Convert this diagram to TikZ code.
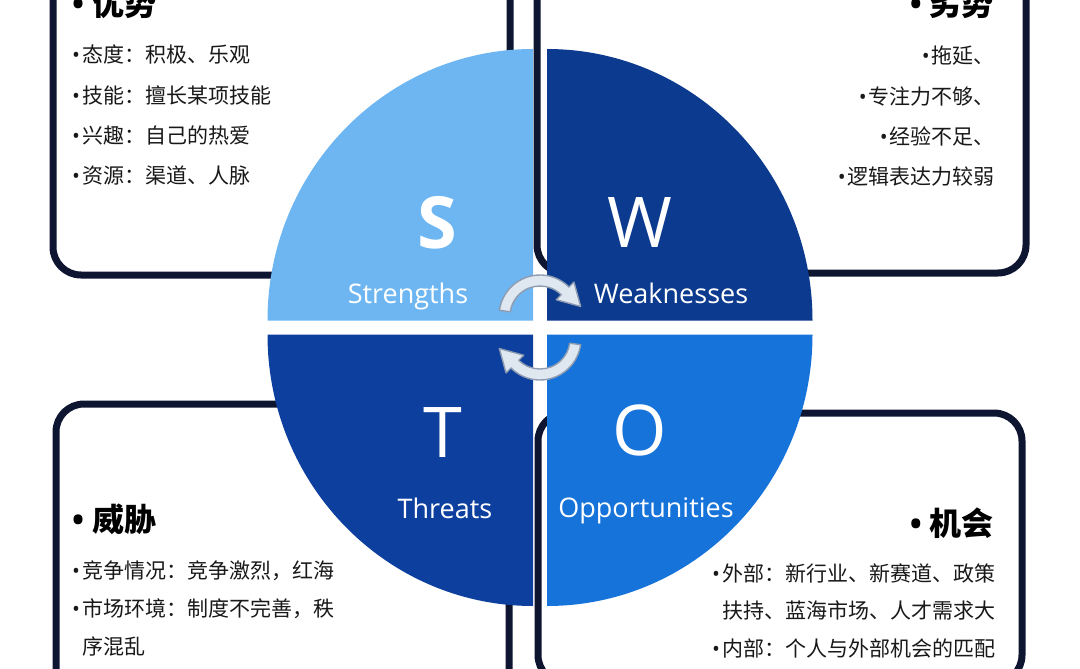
\documentclass[tikz,border=0pt]{standalone}
\usepackage{fontspec}
\setmainfont{Open Sans}
\newfontfamily\cjk{Noto Sans CJK SC}
\usetikzlibrary{calc}
\definecolor{navy}{HTML}{0D1530}
\definecolor{sblue}{HTML}{6DB6F2}
\definecolor{wblue}{HTML}{0B3A8E}
\definecolor{tblue}{HTML}{0D409E}
\definecolor{oblue}{HTML}{1673D9}
\definecolor{arrowfill}{HTML}{DFE7F0}
\definecolor{arrowline}{HTML}{8E9CB2}
\newcommand{\bul}{\makebox[10pt][l]{\rmfamily •}}
\newcommand{\hang}{\hspace*{10pt}}
\tikzset{
  card/.style={draw=navy, line width=7pt, rounded corners=28pt},
  swotletter/.style={text=white, font=\fontsize{70}{70}\selectfont, anchor=base, inner sep=0pt},
  swotlabel/.style={text=white, font=\fontsize{27}{27}\selectfont, anchor=base, inner sep=0pt},
  boxhead/.style={font=\cjk\bfseries\fontsize{32}{32}\selectfont, inner sep=0pt},
  boxitem/.style={font=\cjk\fontsize{21}{21}\selectfont, inner sep=0pt, text=black!90},
  cycle arrow/.style={fill=arrowfill, draw=arrowline, line width=1.4pt, line join=round},
}

\begin{document}
\begin{tikzpicture}[x=1pt, y=1pt]
  \useasboundingbox (0,0) rectangle (1080,-669);
  \clip (0,0) rectangle (1080,-669);
  \fill[white] (0,0) rectangle (1080,-669);

  % frames, partly hidden by the circle
  \draw[card] (53,40) rectangle (510,-275);
  \draw[card] (537,40) rectangle (1026,-273);
  \draw[card] (56,-404) rectangle (509,-720);
  \draw[card] (538,-413) rectangle (1022,-683);

  % the four quarters
  \coordinate (c) at (540,-327.5);
  \fill[sblue] ($(c)+(-7,7)$) -- ++(-265.5,0)
    arc[start angle=180, end angle=90, x radius=265.5, y radius=271.5] -- cycle;
  \fill[wblue] ($(c)+(7,7)$) -- ++(0,271.5)
    arc[start angle=90, end angle=0, x radius=265.5, y radius=271.5] -- cycle;
  \fill[tblue] ($(c)+(-7,-7)$) -- ++(-265.5,0)
    arc[start angle=180, end angle=270, x radius=265.5, y radius=271.5] -- cycle;
  \fill[oblue] ($(c)+(7,-7)$) -- ++(265.5,0)
    arc[start angle=0, end angle=-90, x radius=265.5, y radius=271.5] -- cycle;

  \node[swotletter, font=\bfseries\fontsize{72}{72}\selectfont] (s) at (437,-248) {S};
  \node[swotletter] (w) at (640,-247) {W};
  \node[swotletter] (t) at (443,-457) {T};
  \node[swotletter] (o) at (640,-455) {O};
  \node[swotlabel] (s-lbl) at (408,-303) {Strengths};
  \node[swotlabel] (w-lbl) at (671,-303) {Weaknesses};
  \node[swotlabel] (t-lbl) at (445,-518) {Threats};
  \node[swotlabel] (o-lbl) at (646,-517) {Opportunities};

  % turning arrows in the middle
  \coordinate (up) at (540,-316);
  \coordinate (dn) at (540,-339);
  \draw[cycle arrow] ($(up)+(172:41)$) arc[start angle=172, end angle=45, radius=41]
    -- ($(up)+(45:48)$) -- ($(up)+(45:35.5)+(-45:22)$) -- ($(up)+(45:23)$)
    -- ($(up)+(45:30)$) arc[start angle=45, end angle=172, radius=30] -- cycle;
  \draw[cycle arrow] ($(dn)+(-8:41)$) arc[start angle=-8, end angle=-135, radius=41]
    -- ($(dn)+(-135:48)$) -- ($(dn)+(-135:35.5)+(135:22)$) -- ($(dn)+(-135:23)$)
    -- ($(dn)+(-135:30)$) arc[start angle=-135, end angle=-8, radius=30] -- cycle;

  % texts in the frames
  \node[boxhead, anchor=base west] (str-head) at (72,-16) {{\rmfamily •}\hspace{8pt}优势};
  \node[boxhead, anchor=base east] (wk-head) at (994,-16) {{\rmfamily •}\hspace{8pt}劣势};
  \node[boxhead, anchor=base west] (th-head) at (72,-531) {{\rmfamily •}\hspace{8pt}威胁};
  \node[boxhead, anchor=base east] (op-head) at (994,-535) {{\rmfamily •}\hspace{8pt}机会};

  \foreach \txt [count=\i] in {态度：积极、乐观, 技能：擅长某项技能, 兴趣：自己的热爱, 资源：渠道、人脉}
    \node[boxitem, anchor=base west] (str-\i) at (72,{-63-40*(\i-1)}) {\bul\txt};
  \foreach \txt [count=\i] in {拖延、, 专注力不够、, 经验不足、, 逻辑表达力较弱}
    \node[boxitem, anchor=base east] (wk-\i) at (995,{-64-40*(\i-1)}) {\bul\txt};
  \foreach \txt [count=\i] in {{\bul 竞争情况：竞争激烈，红海}, {\bul 市场环境：制度不完善，秩}, {\hang 序混乱}}
    \node[boxitem, anchor=base west] (th-\i) at (72,{-578-38*(\i-1)}) {\txt};
  \foreach \txt [count=\i] in {{\bul 外部：新行业、新赛道、政策}, {\hang 扶持、蓝海市场、人才需求大}, {\bul 内部：个人与外部机会的匹配}}
    \node[boxitem, anchor=base west] (op-\i) at (712,{-581-37.5*(\i-1)}) {\txt};
\end{tikzpicture}
\end{document}
